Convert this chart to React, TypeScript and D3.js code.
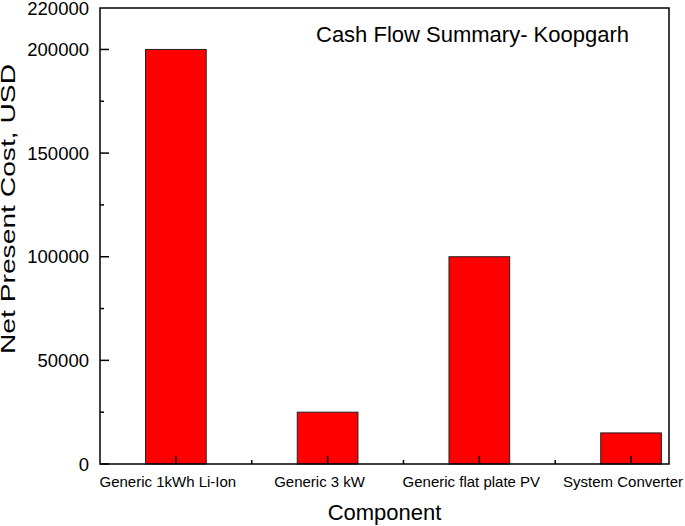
import React from "react";
import * as d3 from "d3";

const components = [
  "Generic 1kWh Li-Ion",
  "Generic 3 kW",
  "Generic flat plate PV",
  "System Converter",
];
const netPresentCost = [200000, 25000, 100000, 15000];
const yMajorTicks = [0, 50000, 100000, 150000, 200000, 220000];
const yMinorTicks = [25000, 75000, 125000, 175000];

const W = 685;
const H = 526;
const margin = { top: 8, right: 16, bottom: 62, left: 100 };

const App = () => {
  const x = d3
    .scaleLinear()
    .domain([0.5, 4.25])
    .range([margin.left, W - margin.right]);
  const y = d3
    .scaleLinear()
    .domain([0, 220000])
    .range([H - margin.bottom, margin.top]);

  const barW = x(0.4) - x(0);
  const xMinor = d3.range(1.5, 4, 1);

  return (
    <svg
      width={W}
      height={H}
      style={{ position: "absolute", left: 0, top: 0, fontFamily: "'Liberation Sans', Arial, sans-serif" }}
    >
      <rect x={0} y={0} width={W} height={H} fill="#fff" />

      {netPresentCost.map((v, i) => (
        <rect
          key={i}
          x={x(i + 1) - barW / 2}
          y={y(v)}
          width={barW}
          height={y(0) - y(v)}
          fill="#ff0000"
          stroke="#222"
          strokeWidth={1}
        />
      ))}

      {/* y ticks, pointing inward */}
      {yMajorTicks
        .filter((t) => t < 220000)
        .map((t) => (
          <line key={"ym" + t} x1={x(0.5)} x2={x(0.5) + 9} y1={y(t)} y2={y(t)} stroke="#000" strokeWidth={1.5} />
        ))}
      {yMinorTicks.map((t) => (
        <line key={"yn" + t} x1={x(0.5)} x2={x(0.5) + 4} y1={y(t)} y2={y(t)} stroke="#000" strokeWidth={1.5} />
      ))}
      {yMajorTicks.map((t) => (
        <text key={"yl" + t} x={89} y={y(t)} dy="0.36em" textAnchor="end" fontSize={18.5} fill="#000">
          {t}
        </text>
      ))}

      {/* x ticks */}
      {components.map((c, i) => (
        <g key={c}>
          <line x1={x(i + 1)} x2={x(i + 1)} y1={y(0)} y2={y(0) - 8} stroke="#000" strokeWidth={1.5} />
          <text x={x(i + 1) - 8} y={487} textAnchor="middle" fontSize={15} fill="#000">
            {c}
          </text>
        </g>
      ))}
      {xMinor.map((t) => (
        <line key={"xn" + t} x1={x(t)} x2={x(t)} y1={y(0)} y2={y(0) - 4} stroke="#000" strokeWidth={1.5} />
      ))}

      {/* frame */}
      <rect
        x={x(0.5)}
        y={y(220000)}
        width={x(4.25) - x(0.5)}
        height={y(0) - y(220000)}
        fill="none"
        stroke="#000"
        strokeWidth={1.5}
      />

      <text x={316} y={42} fontSize={22} fill="#000">
        Cash Flow Summary- Koopgarh
      </text>
      <text x={(x(0.5) + x(4.25)) / 2} y={520} textAnchor="middle" fontSize={22} fill="#000">
        Component
      </text>
      <text
        transform={`translate(15,209) rotate(-90)`}
        textAnchor="middle"
        fontSize={20}
        textLength={290}
        lengthAdjust="spacingAndGlyphs"
        fill="#000"
      >
        Net Present Cost, USD
      </text>
    </svg>
  );
};

export default App;
